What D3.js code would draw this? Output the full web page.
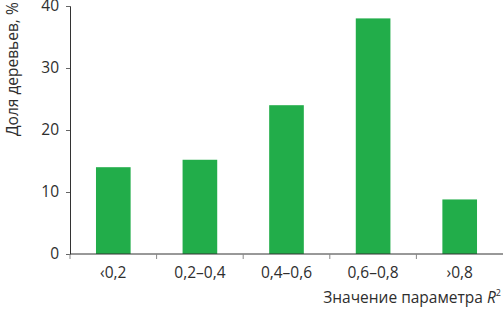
<!DOCTYPE html>
<html>
<head>
<meta charset="utf-8">
<script src="https://cdn.jsdelivr.net/npm/d3@7"></script>
<style>
  body { margin: 0; background: #fff; }
  svg text { font-family: "Open Sans", "Noto Sans", sans-serif; fill: #2e2e2e; }
</style>
</head>
<body>
<div class="chart"></div>
<script>
const categories = ["‹0,2", "0,2–0,4", "0,4–0,6", "0,6–0,8", "›0,8"];
const shares = [14, 15.2, 24, 38, 8.8];
const yTicks = [0, 10, 20, 30, 40];

const margin = { top: 6, right: 0, bottom: 56, left: 70 },
    width = 503 - margin.left - margin.right,
    height = 310 - margin.top - margin.bottom;

const svg = d3.select(".chart").append("svg")
    .attr("width", 503).attr("height", 310)
    .append("g").attr("transform", `translate(${margin.left},${margin.top})`);

const x = d3.scaleBand().domain(categories).range([0, width]).paddingInner(0.6).paddingOuter(0.3);
const y = d3.scaleLinear().domain([0, 40]).range([height, 0]);

// bars
svg.selectAll("rect").data(shares).join("rect")
    .attr("x", (d, i) => x(categories[i]))
    .attr("y", d => y(d))
    .attr("width", x.bandwidth())
    .attr("height", d => height - y(d))
    .attr("fill", "#22ad4a");

// y axis
const yAxis = svg.append("g").call(d3.axisLeft(y).tickValues(yTicks).tickSize(4).tickPadding(7));
yAxis.select(".domain").attr("stroke", "#333");
yAxis.selectAll(".tick line").attr("stroke", "#666");
yAxis.selectAll(".tick text").style("font-size", "15.5px").attr("fill", "#2e2e2e");

// x axis: ticks at category boundaries
const xAxis = svg.append("g").attr("transform", `translate(0,${height})`);
xAxis.append("line").attr("x1", 0).attr("x2", width).attr("stroke", "#333");
xAxis.selectAll(".bound").data(d3.range(categories.length)).join("line")
    .attr("class", "bound")
    .attr("x1", i => x(categories[i]) - x.bandwidth() * 0.75)
    .attr("x2", i => x(categories[i]) - x.bandwidth() * 0.75)
    .attr("y1", 0).attr("y2", 5).attr("stroke", "#888");
xAxis.selectAll(".lbl").data(categories).join("text")
    .attr("class", "lbl")
    .attr("x", d => x(d) + x.bandwidth() / 2)
    .attr("y", 24)
    .attr("text-anchor", "middle")
    .style("font-size", "15.5px")
    .text(d => d);

// axis titles
svg.append("text")
    .attr("transform", `translate(${-52},${136 - margin.top}) rotate(-90)`)
    .style("font-size", "15.5px")
    .text("Доля деревьев, %");

const xt = svg.append("text")
    .attr("x", width - 2).attr("y", height + 49)
    .attr("text-anchor", "end")
    .style("font-size", "15.5px");
xt.append("tspan").text("Значение параметра ");
xt.append("tspan").style("font-style", "italic").text("R");
xt.append("tspan").attr("dy", -7).style("font-size", "9px").text("2");
</script>
</body>
</html>
